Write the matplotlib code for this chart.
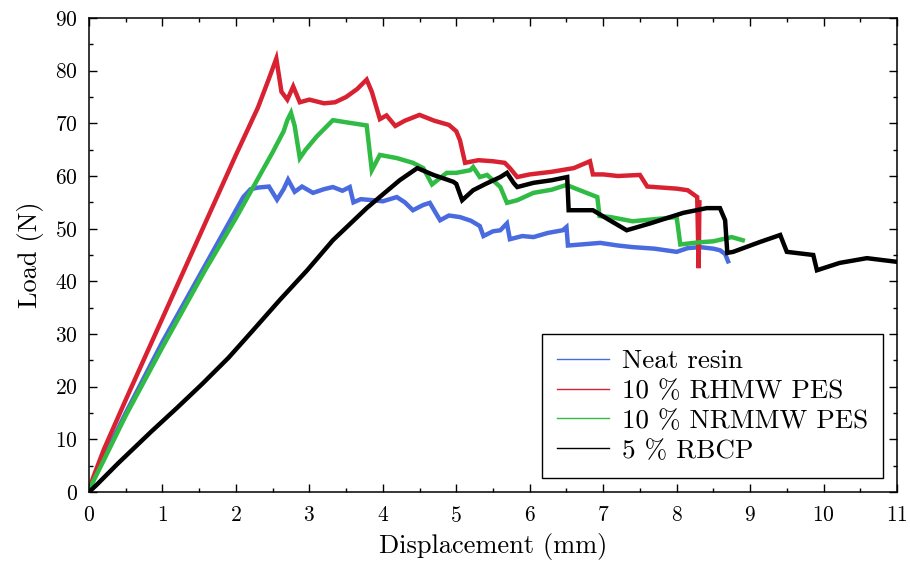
import matplotlib
matplotlib.use("Agg")
import matplotlib.pyplot as plt
from matplotlib.ticker import MultipleLocator

# Neat resin
neat_x = [0, 0.05, 0.2, 0.5, 1.0, 1.5, 1.8, 2.0, 2.1, 2.2, 2.3, 2.45, 2.56, 2.65, 2.71, 2.8, 2.9, 3.05, 3.2,
          3.32, 3.45, 3.55, 3.6, 3.7, 3.87, 4.0, 4.19, 4.3, 4.41, 4.55, 4.64, 4.72, 4.78, 4.9, 5.05, 5.2, 5.32,
          5.37, 5.5, 5.6, 5.69, 5.73, 5.9, 6.05, 6.25, 6.45, 6.5, 6.52, 6.7, 6.96, 7.2, 7.4, 7.7, 8.0, 8.15,
          8.32, 8.5, 8.59, 8.66, 8.7]
neat_y = [0, 2.0, 6.5, 15, 28.5, 41, 48.5, 53.5, 56, 57.5, 57.8, 58, 55.5, 57.5, 59.3, 57, 58, 56.8, 57.5,
          57.9, 57.2, 57.9, 55, 55.6, 55.4, 55.2, 56, 55, 53.5, 54.5, 54.9, 53, 51.6, 52.5, 52.2, 51.5, 50.5,
          48.6, 49.5, 49.7, 51, 48, 48.6, 48.4, 49.2, 49.7, 50.3, 46.8, 47, 47.3, 46.8, 46.5, 46.2, 45.6, 46.3,
          46.5, 46.2, 45.9, 45.2, 43.8]

# 10 % RHMW PES
rhmw_x = [0, 0.05, 0.2, 0.5, 1.0, 1.5, 2.0, 2.3, 2.45, 2.55, 2.62, 2.7, 2.78, 2.87, 3.0, 3.2, 3.35, 3.5,
          3.65, 3.78, 3.85, 3.96, 4.05, 4.17, 4.3, 4.5, 4.7, 4.9, 5.0, 5.05, 5.12, 5.3, 5.5, 5.66, 5.73, 5.83,
          6.0, 6.3, 6.6, 6.82, 6.86, 7.0, 7.2, 7.5, 7.6, 7.8, 8.0, 8.15, 8.28, 8.3, 8.31]
rhmw_y = [0, 2.5, 8, 17.5, 33, 48.5, 64, 73, 78.5, 82.3, 76, 74.5, 77, 74, 74.5, 73.8, 74, 75, 76.5, 78.3,
          76, 70.8, 71.5, 69.5, 70.5, 71.6, 70.5, 69.7, 68.5, 66.8, 62.5, 63, 62.8, 62.5, 61.5, 59.8, 60.3,
          60.8, 61.5, 62.8, 60.3, 60.3, 60, 60.2, 58, 57.8, 57.6, 57.3, 56, 42.5, 55]

# 10 % NRMMW PES
nrmmw_x = [0, 0.05, 0.2, 0.5, 1.0, 1.58, 2.0, 2.3, 2.5, 2.65, 2.7, 2.75, 2.8, 2.87, 2.95, 3.1, 3.32, 3.5,
           3.78, 3.85, 3.96, 4.19, 4.41, 4.55, 4.67, 4.87, 5.0, 5.19, 5.23, 5.32, 5.42, 5.6, 5.69, 5.83, 6.05,
           6.3, 6.5, 6.7, 6.92, 6.95, 7.1, 7.4, 7.7, 8.0, 8.05, 8.3, 8.5, 8.75, 8.9]
nrmmw_y = [0, 1.8, 6, 14.5, 27.5, 42.1, 52, 59.5, 64.5, 68.5, 70.6, 72, 69.5, 63.4, 65, 67.5, 70.6, 70.2,
           69.6, 61.1, 64, 63.4, 62.5, 61.5, 58.4, 60.6, 60.6, 61.1, 61.7, 59.8, 60.2, 57.9, 54.9, 55.4, 56.8,
           57.4, 58.3, 57.2, 56, 52.4, 52.2, 51.4, 51.8, 52.2, 47, 47.4, 47.6, 48.4, 47.8]

# 5 % RBCP
rbcp_x = [0, 0.1, 0.4, 0.85, 1.2, 1.54, 1.9, 2.22, 2.6, 2.97, 3.32, 3.78, 4.0, 4.23, 4.47, 4.69, 4.96, 5.0,
          5.08, 5.23, 5.4, 5.6, 5.69, 5.78, 5.83, 6.05, 6.3, 6.51, 6.53, 6.86, 7.1, 7.32, 7.64, 8.09, 8.41,
          8.59, 8.66, 8.69, 8.77, 9.14, 9.41, 9.5, 9.86, 9.91, 10.22, 10.59, 11.0]
rbcp_y = [0, 1.3, 5.5, 11.5, 16, 20.5, 25.5, 30.5, 36.5, 42.1, 47.8, 53.9, 56.5, 59.2, 61.5, 60.2, 58.9, 58.5,
          55.4, 57.3, 58.5, 59.8, 60.6, 58.7, 57.9, 58.7, 59.2, 59.8, 53.5, 53.5, 51.5, 49.7, 51, 53, 53.9,
          53.9, 51.6, 45.4, 45.6, 47.5, 48.8, 45.6, 45, 42.1, 43.5, 44.4, 43.7]

series = [
    ("Neat resin", neat_x, neat_y, "#4a6be0"),
    ("10 % RHMW PES", rhmw_x, rhmw_y, "#d82232"),
    ("10 % NRMMW PES", nrmmw_x, nrmmw_y, "#30bb44"),
    ("5 % RBCP", rbcp_x, rbcp_y, "#000000"),
]

plt.rcParams["font.family"] = ["cmr10", "DejaVu Serif"]
plt.rcParams["mathtext.fontset"] = "cm"
plt.rcParams["axes.formatter.use_mathtext"] = True

fig = plt.figure(figsize=(9.1, 5.64), dpi=100)
ax = fig.add_axes([89 / 910, 72 / 564, 808 / 910, 474 / 564])

handles = []
for label, xs, ys, col in series:
    ax.plot(xs, ys, color=col, lw=3.2, solid_joinstyle="miter")
    h, = ax.plot([], [], color=col, lw=1.0, label=label)
    handles.append(h)

ax.set_xlim(0, 11)
ax.set_ylim(0, 90)
ax.xaxis.set_major_locator(MultipleLocator(1))
ax.xaxis.set_minor_locator(MultipleLocator(0.5))
ax.yaxis.set_major_locator(MultipleLocator(10))
ax.yaxis.set_minor_locator(MultipleLocator(5))
ax.tick_params(which="both", direction="in", top=True, right=True, labelsize=15.5, width=1.0)
ax.tick_params(which="major", length=6)
ax.tick_params(axis="x", which="major", pad=10)
ax.tick_params(axis="y", which="major", pad=8)
ax.tick_params(which="minor", length=3)
for s in ax.spines.values():
    s.set_linewidth(1.1)

ax.set_xlabel("Displacement (mm)", fontsize=19, labelpad=5)
ax.set_ylabel("Load (N)", fontsize=19, labelpad=8)

leg = ax.legend(handles=handles, loc="lower right", bbox_to_anchor=(0.983, 0.03),
                fontsize=19.5, frameon=True, fancybox=False, edgecolor="black",
                framealpha=1, borderaxespad=0, handlelength=1.9, handletextpad=0.5,
                labelspacing=0.22, borderpad=0.55)
leg.get_frame().set_linewidth(1.0)

fig.savefig("out.png", dpi=100)
